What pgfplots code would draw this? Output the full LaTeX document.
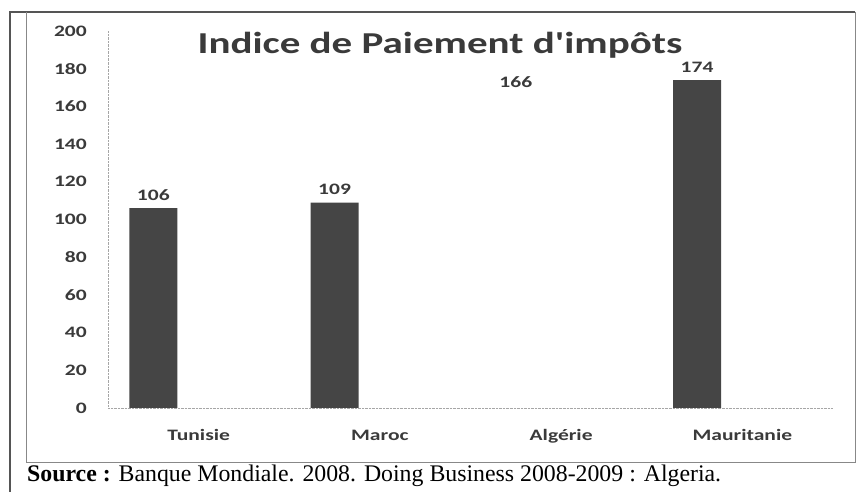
\documentclass[border=0pt]{standalone}
\usepackage{pgfplots}
\pgfplotsset{compat=1.18}
\usepackage{fontspec}
\setmainfont{Carlito}[FakeStretch=1.35]
\newfontfamily\titlefont{Carlito}[FakeStretch=1.35]
\newfontfamily\srcfont{Liberation Serif}
\definecolor{barc}{HTML}{454545}
\definecolor{txt}{HTML}{3A3A3A}
\definecolor{frame}{HTML}{555555}
\begin{document}
\begin{tikzpicture}[x=1bp,y=1bp]
\useasboundingbox (-108,-84) rectangle (749,408);
\draw[frame, line width=1.2bp] (-98,-84) -- (-98,396) -- (747,396);
\draw[frame!70, line width=0.9bp] (-82,396) -- (-82,-54) -- (747,-54) -- (747,396);
\begin{axis}[
  at={(0,0)}, anchor=south west,
  scale only axis, width=725bp, height=377bp,
  xmin=-0.5, xmax=3.5, ymin=0, ymax=200,
  axis x line*=bottom, axis y line*=left,
  axis line style={gray!70, densely dotted},
  /pgf/number format/assume math mode=true,
  xtick={0,1,2,3},
  xticklabels={Tunisie,Maroc,Algérie,Mauritanie},
  ytick={0,20,...,200},
  major tick length=0pt,
  ticklabel style={font=\fontsize{16}{18}\selectfont\bfseries, text=txt},
  yticklabel style={anchor=east, inner sep=0pt, xshift=-21bp},
  xticklabel style={anchor=base, yshift=-33bp},
  nodes near coords,
  every node near coord/.append style={font=\fontsize{16}{18}\selectfont\bfseries, text=txt, yshift=4bp},
  clip=false,
]
\addplot[ybar, bar shift=0pt, bar width=48bp, fill=barc, draw=none]
  coordinates {(-0.25,106) (0.75,109) (2.75,174)};
\addplot[ybar, bar shift=0pt, bar width=48bp, fill=white, draw=none]
  coordinates {(1.75,166)};
\end{axis}
\node[anchor=base, text=txt, font=\fontsize{30.5}{33}\titlefont\bfseries] at (440-108,354) {Indice de Paiement d'impôts};
\node[anchor=base west, inner sep=0pt, font=\fontsize{23.9}{26}\srcfont] at (-81,-74) {\textbf{Source :} Banque Mondiale. 2008. Doing Business 2008-2009 : Algeria.};
\end{tikzpicture}
\end{document}
